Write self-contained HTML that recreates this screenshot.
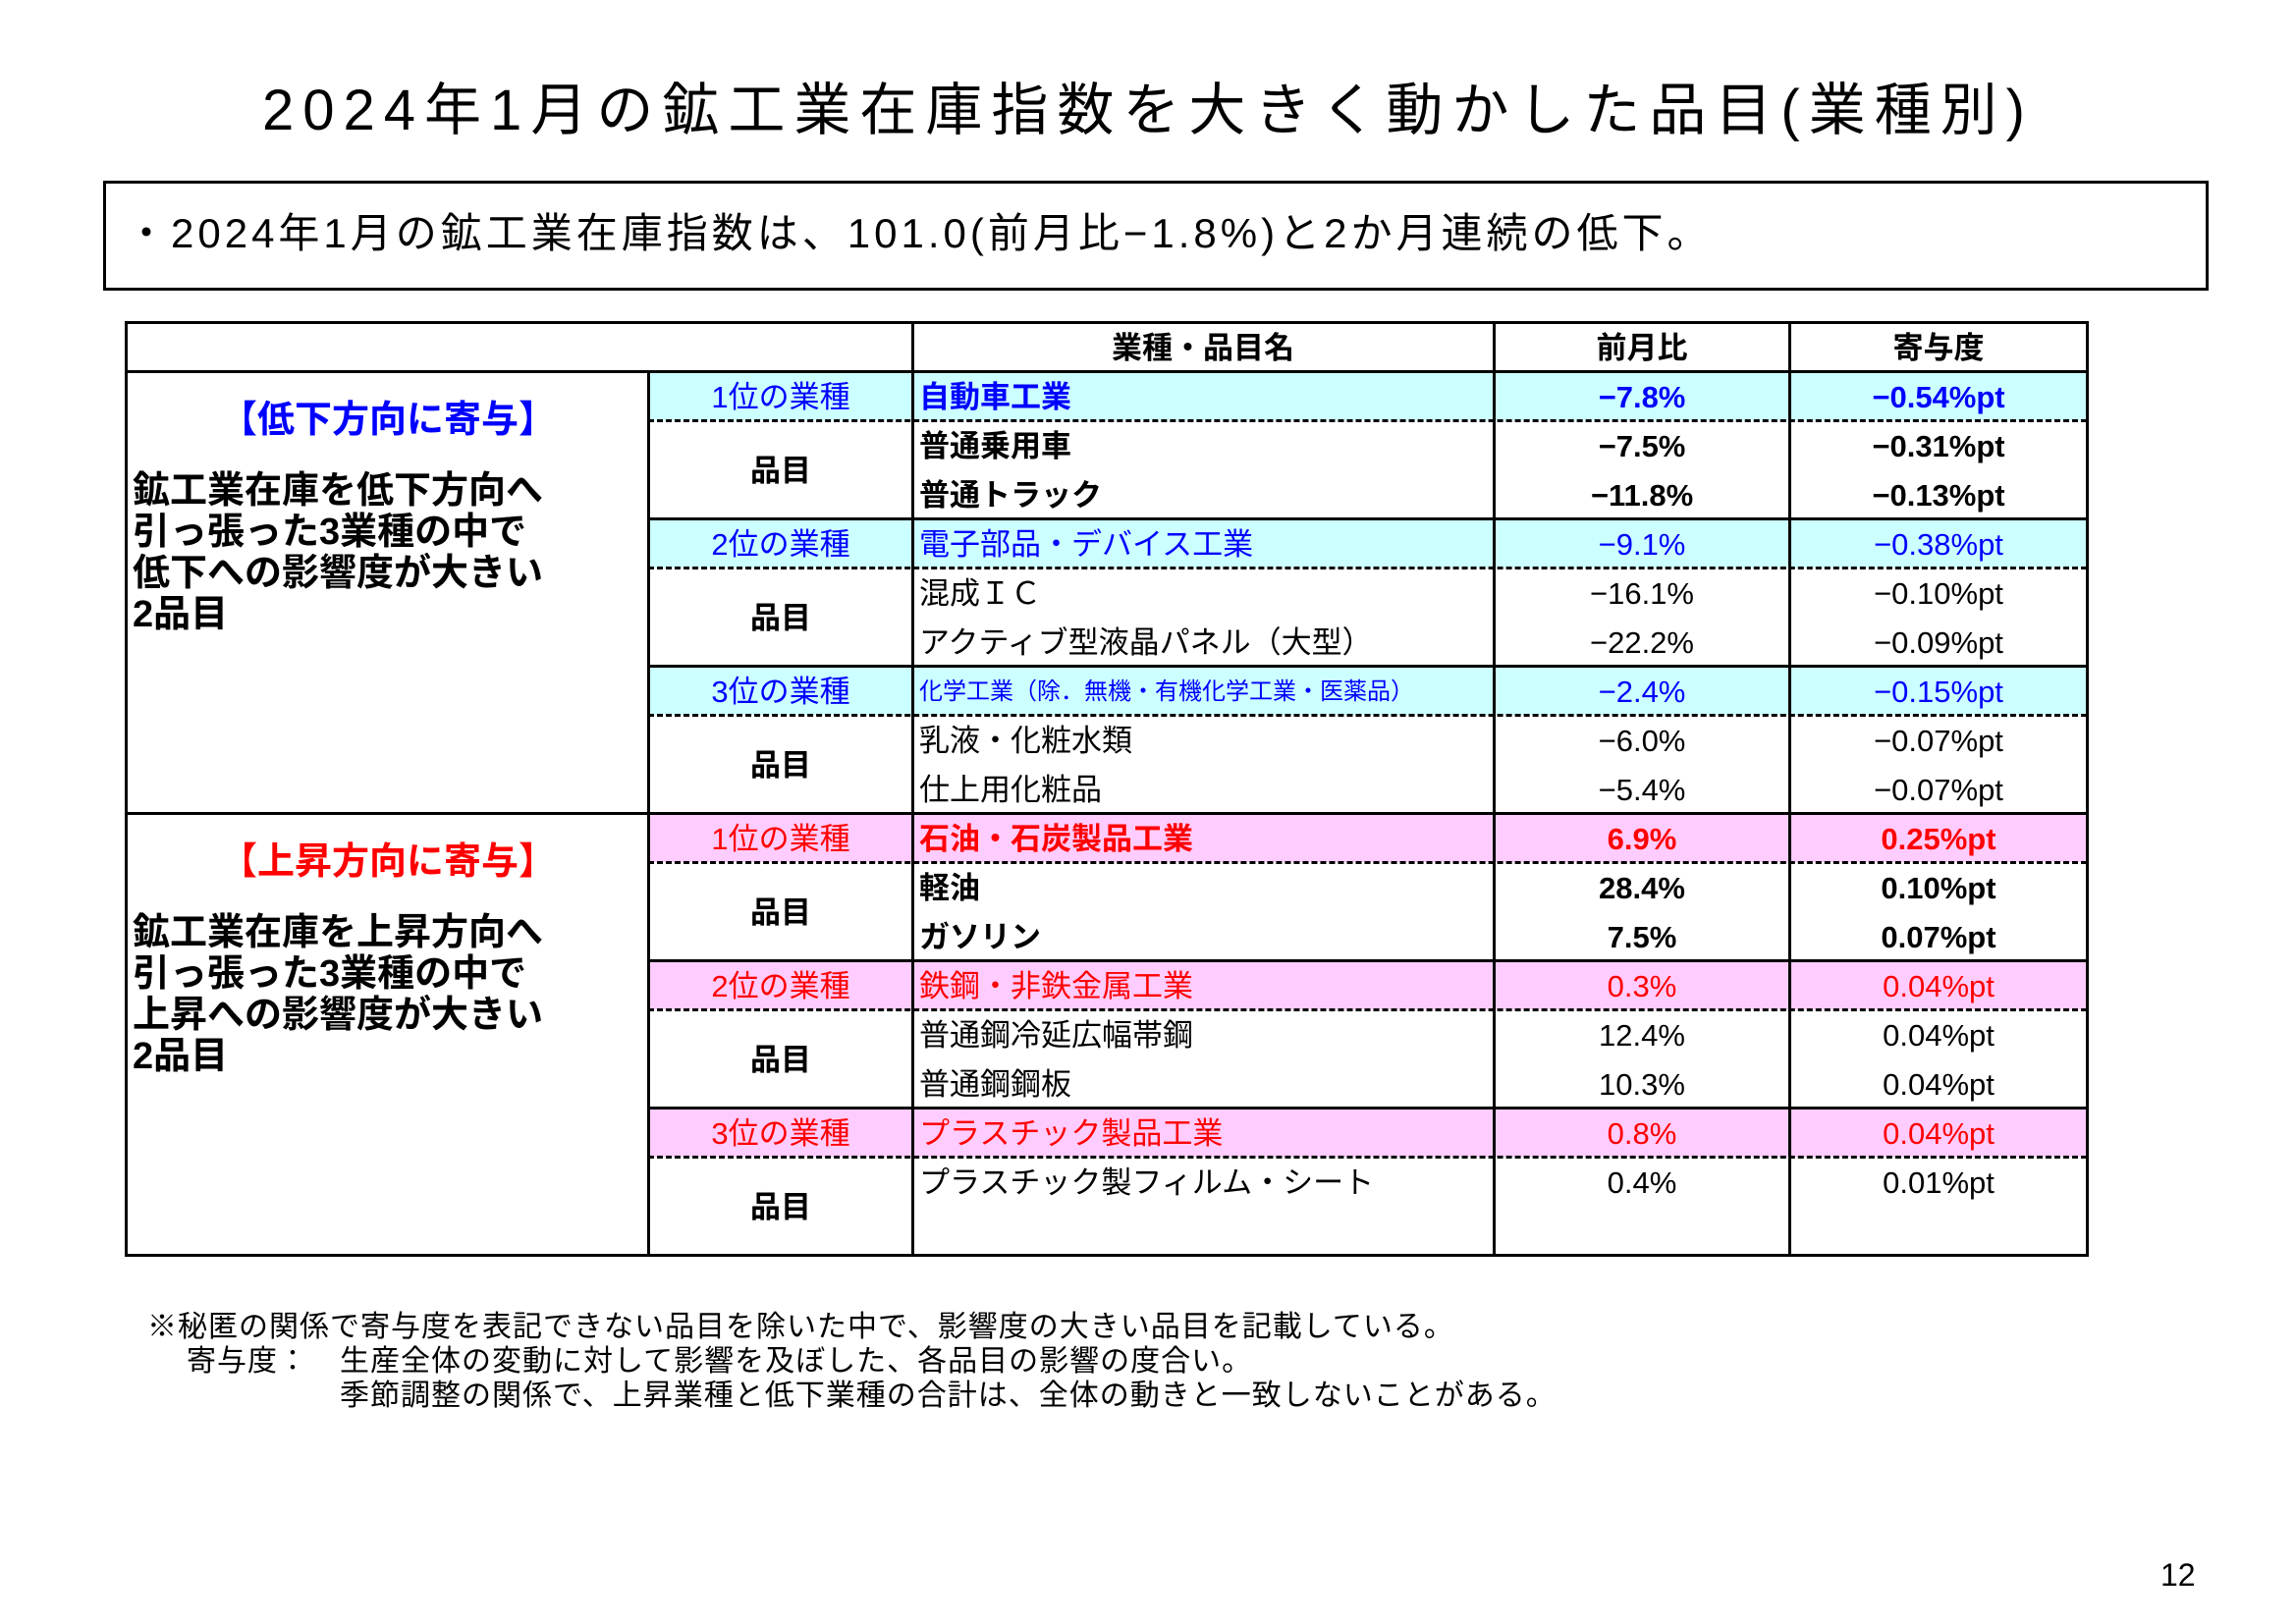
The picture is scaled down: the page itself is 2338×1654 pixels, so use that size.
<!DOCTYPE html>
<html><head><meta charset="utf-8"><style>
body{margin:0;width:2338px;height:1654px;background:#fff;position:relative;overflow:hidden;font-family:"Liberation Sans","Noto Sans CJK JP",sans-serif;color:#000}
.a{position:absolute}
.t{position:absolute;white-space:nowrap;line-height:50px;height:50px;font-size:31px}
.c{text-align:center}
.b{font-weight:bold}
.bl{color:#0000ff}.rd{color:#ff0000}
.h{position:absolute;height:3px;background:#000}
.v{position:absolute;width:3px;background:#000}
.d{position:absolute;height:0;border-top:3px dashed #000}
.f{position:absolute;font-size:30px;line-height:36px;letter-spacing:1px;white-space:nowrap}
</style></head><body>
<div class="a c" style="left:0;width:2338px;top:78px;font-size:58px;line-height:70px;letter-spacing:9px">2024年1月の鉱工業在庫指数を大きく動かした品目(業種別)</div>
<div class="a" style="left:105px;top:184px;width:2138px;height:106px;border:3px solid #000"></div>
<div class="a" style="left:128px;top:210px;font-size:42px;line-height:56px;letter-spacing:4px;white-space:nowrap">・2024年1月の鉱工業在庫指数は、101.0(前月比−1.8%)と2か月連続の低下。</div>

<div class="a" style="left:660px;top:378px;width:1465px;height:50px;background:#ccffff"></div>
<div class="a" style="left:660px;top:528px;width:1465px;height:50px;background:#ccffff"></div>
<div class="a" style="left:660px;top:678px;width:1465px;height:50px;background:#ccffff"></div>
<div class="a" style="left:660px;top:828px;width:1465px;height:50px;background:#ffccff"></div>
<div class="a" style="left:660px;top:978px;width:1465px;height:50px;background:#ffccff"></div>
<div class="a" style="left:660px;top:1128px;width:1465px;height:50px;background:#ffccff"></div>

<div class="h" style="left:128px;top:327px;width:1999px"></div>
<div class="h" style="left:128px;top:377px;width:1999px"></div>
<div class="h" style="left:660px;top:527px;width:1467px"></div>
<div class="h" style="left:660px;top:677px;width:1467px"></div>
<div class="h" style="left:128px;top:827px;width:1999px"></div>
<div class="h" style="left:660px;top:977px;width:1467px"></div>
<div class="h" style="left:660px;top:1127px;width:1467px"></div>
<div class="h" style="left:128px;top:1277px;width:1999px"></div>
<div class="d" style="left:660px;top:427px;width:1465px"></div>
<div class="d" style="left:660px;top:577px;width:1465px"></div>
<div class="d" style="left:660px;top:727px;width:1465px"></div>
<div class="d" style="left:660px;top:877px;width:1465px"></div>
<div class="d" style="left:660px;top:1027px;width:1465px"></div>
<div class="d" style="left:660px;top:1177px;width:1465px"></div>
<div class="v" style="left:127px;top:327px;height:953px"></div>
<div class="v" style="left:659px;top:377px;height:903px"></div>
<div class="v" style="left:928px;top:327px;height:953px"></div>
<div class="v" style="left:1520px;top:327px;height:953px"></div>
<div class="v" style="left:1821px;top:327px;height:953px"></div>
<div class="v" style="left:2124px;top:327px;height:953px"></div>

<div class="t c b" style="left:930px;width:590px;top:330px">業種・品目名</div>
<div class="t c b" style="left:1522px;width:300px;top:330px">前月比</div>
<div class="t c b" style="left:1823px;width:302px;top:330px">寄与度</div>

<div class="a c b bl" style="left:130px;width:530px;top:400px;font-size:38px;line-height:56px">【低下方向に寄与】</div>
<div class="a b" style="left:135px;top:479px;font-size:38px;line-height:42px">鉱工業在庫を低下方向へ<br>引っ張った3業種の中で<br>低下への影響度が大きい<br>2品目</div>
<div class="a c b rd" style="left:130px;width:530px;top:850px;font-size:38px;line-height:56px">【上昇方向に寄与】</div>
<div class="a b" style="left:135px;top:929px;font-size:38px;line-height:42px">鉱工業在庫を上昇方向へ<br>引っ張った3業種の中で<br>上昇への影響度が大きい<br>2品目</div>

<div class="t c bl" style="left:660px;width:270px;top:380px">1位の業種</div>
<div class="t c bl" style="left:660px;width:270px;top:530px">2位の業種</div>
<div class="t c bl" style="left:660px;width:270px;top:680px">3位の業種</div>
<div class="t c rd" style="left:660px;width:270px;top:830px">1位の業種</div>
<div class="t c rd" style="left:660px;width:270px;top:980px">2位の業種</div>
<div class="t c rd" style="left:660px;width:270px;top:1130px">3位の業種</div>
<div class="t c b" style="left:660px;width:270px;top:455px">品目</div>
<div class="t c b" style="left:660px;width:270px;top:605px">品目</div>
<div class="t c b" style="left:660px;width:270px;top:755px">品目</div>
<div class="t c b" style="left:660px;width:270px;top:905px">品目</div>
<div class="t c b" style="left:660px;width:270px;top:1055px">品目</div>
<div class="t c b" style="left:660px;width:270px;top:1205px">品目</div>

<div class="t b bl" style="left:936px;top:380px">自動車工業</div>
<div class="t b" style="left:936px;top:430px">普通乗用車</div>
<div class="t b" style="left:936px;top:480px">普通トラック</div>
<div class="t bl" style="left:936px;top:530px">電子部品・デバイス工業</div>
<div class="t" style="left:936px;top:580px">混成ＩＣ</div>
<div class="t" style="left:936px;top:630px">アクティブ型液晶パネル（大型）</div>
<div class="t bl" style="left:936px;top:680px;font-size:24px">化学工業（除．無機・有機化学工業・医薬品）</div>
<div class="t" style="left:936px;top:730px">乳液・化粧水類</div>
<div class="t" style="left:936px;top:780px">仕上用化粧品</div>
<div class="t b rd" style="left:936px;top:830px">石油・石炭製品工業</div>
<div class="t b" style="left:936px;top:880px">軽油</div>
<div class="t b" style="left:936px;top:930px">ガソリン</div>
<div class="t rd" style="left:936px;top:980px">鉄鋼・非鉄金属工業</div>
<div class="t" style="left:936px;top:1030px">普通鋼冷延広幅帯鋼</div>
<div class="t" style="left:936px;top:1080px">普通鋼鋼板</div>
<div class="t rd" style="left:936px;top:1130px">プラスチック製品工業</div>
<div class="t" style="left:936px;top:1180px">プラスチック製フィルム・シート</div>

<div class="t c b bl" style="left:1522px;width:300px;top:380px">−7.8%</div>
<div class="t c b" style="left:1522px;width:300px;top:430px">−7.5%</div>
<div class="t c b" style="left:1522px;width:300px;top:480px">−11.8%</div>
<div class="t c bl" style="left:1522px;width:300px;top:530px">−9.1%</div>
<div class="t c" style="left:1522px;width:300px;top:580px">−16.1%</div>
<div class="t c" style="left:1522px;width:300px;top:630px">−22.2%</div>
<div class="t c bl" style="left:1522px;width:300px;top:680px">−2.4%</div>
<div class="t c" style="left:1522px;width:300px;top:730px">−6.0%</div>
<div class="t c" style="left:1522px;width:300px;top:780px">−5.4%</div>
<div class="t c b rd" style="left:1522px;width:300px;top:830px">6.9%</div>
<div class="t c b" style="left:1522px;width:300px;top:880px">28.4%</div>
<div class="t c b" style="left:1522px;width:300px;top:930px">7.5%</div>
<div class="t c rd" style="left:1522px;width:300px;top:980px">0.3%</div>
<div class="t c" style="left:1522px;width:300px;top:1030px">12.4%</div>
<div class="t c" style="left:1522px;width:300px;top:1080px">10.3%</div>
<div class="t c rd" style="left:1522px;width:300px;top:1130px">0.8%</div>
<div class="t c" style="left:1522px;width:300px;top:1180px">0.4%</div>

<div class="t c b bl" style="left:1823px;width:302px;top:380px">−0.54%pt</div>
<div class="t c b" style="left:1823px;width:302px;top:430px">−0.31%pt</div>
<div class="t c b" style="left:1823px;width:302px;top:480px">−0.13%pt</div>
<div class="t c bl" style="left:1823px;width:302px;top:530px">−0.38%pt</div>
<div class="t c" style="left:1823px;width:302px;top:580px">−0.10%pt</div>
<div class="t c" style="left:1823px;width:302px;top:630px">−0.09%pt</div>
<div class="t c bl" style="left:1823px;width:302px;top:680px">−0.15%pt</div>
<div class="t c" style="left:1823px;width:302px;top:730px">−0.07%pt</div>
<div class="t c" style="left:1823px;width:302px;top:780px">−0.07%pt</div>
<div class="t c b rd" style="left:1823px;width:302px;top:830px">0.25%pt</div>
<div class="t c b" style="left:1823px;width:302px;top:880px">0.10%pt</div>
<div class="t c b" style="left:1823px;width:302px;top:930px">0.07%pt</div>
<div class="t c rd" style="left:1823px;width:302px;top:980px">0.04%pt</div>
<div class="t c" style="left:1823px;width:302px;top:1030px">0.04%pt</div>
<div class="t c" style="left:1823px;width:302px;top:1080px">0.04%pt</div>
<div class="t c rd" style="left:1823px;width:302px;top:1130px">0.04%pt</div>
<div class="t c" style="left:1823px;width:302px;top:1180px">0.01%pt</div>

<div class="f" style="left:150px;top:1334px">※秘匿の関係で寄与度を表記できない品目を除いた中で、影響度の大きい品目を記載している。</div>
<div class="f" style="left:190px;top:1369px">寄与度：</div>
<div class="f" style="left:346px;top:1369px">生産全体の変動に対して影響を及ぼした、各品目の影響の度合い。</div>
<div class="f" style="left:346px;top:1404px">季節調整の関係で、上昇業種と低下業種の合計は、全体の動きと一致しないことがある。</div>
<div class="a" style="left:2200px;top:1584px;font-size:32px;line-height:40px">12</div>
</body></html>
